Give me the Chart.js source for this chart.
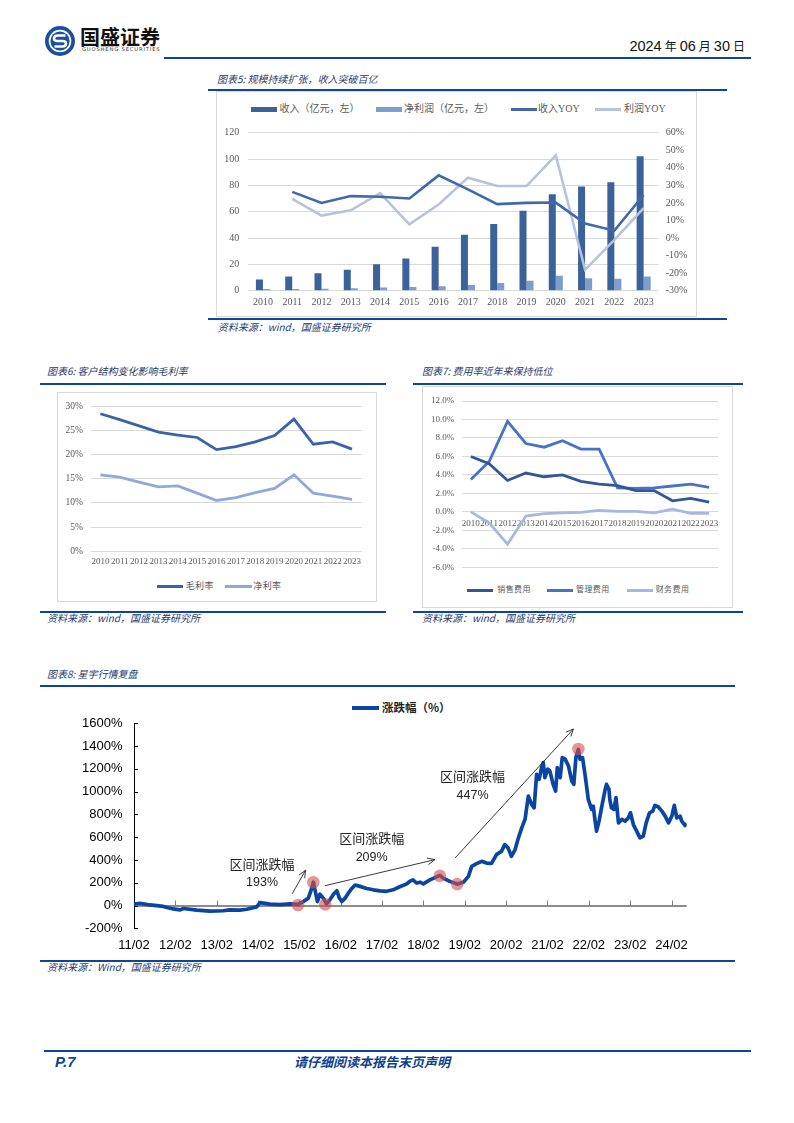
<!DOCTYPE html>
<html><head><meta charset="utf-8">
<script src="https://cdn.jsdelivr.net/npm/chart.js@4.4.1/dist/chart.umd.min.js"></script>
<style>
body{margin:0;width:794px;height:1123px;position:relative;background:#fff;font-family:'Noto Sans CJK SC',sans-serif;overflow:hidden}
.hl{position:absolute;height:2px;background:#0c469c}
.title{position:absolute;font-size:10px;font-style:italic;color:#1f3b6e;white-space:nowrap;line-height:12px}
.box{position:absolute;border:1px solid #d9d9d9;box-sizing:border-box}
canvas{position:absolute}
.lg{position:absolute;color:#595959;white-space:nowrap;font-family:'Liberation Serif','Noto Sans CJK SC',serif}
.sw{position:absolute}
</style>
</head><body>
<script>
// ---------- data ----------
const years = ['2010','2011','2012','2013','2014','2015','2016','2017','2018','2019','2020','2021','2022','2023'];
// Chart 5
const revenue   = [8.6, 10.7, 13.2, 16.0, 20.1, 24.4, 33.3, 42.5, 50.6, 60.8, 73.2, 79.1, 82.3, 102.2];
const netProfit = [1.3, 1.3, 1.5, 1.8, 2.5, 2.8, 3.3, 4.3, 5.8, 7.6, 11.4, 9.4, 9.1, 10.8];
const revenueYoy = [null, 26.3, 20.0, 23.9, 23.5, 22.5, 35.7, 27.7, 19.3, 20.0, 20.2, 8.2, 4.2, 24.5];
const profitYoy  = [null, 22.3, 12.8, 15.8, 25.6, 7.8, 19.1, 34.4, 29.6, 29.6, 47.1, -18.1, -1.0, 17.1];
// Chart 6
const grossMargin = [28.4, 27.2, 25.9, 24.6, 24.0, 23.5, 21.0, 21.6, 22.6, 23.9, 27.3, 22.1, 22.6, 21.1];
const netMargin   = [15.8, 15.3, 14.3, 13.3, 13.5, 12.0, 10.5, 11.1, 12.1, 13.0, 15.8, 12.0, 11.4, 10.7];
// Chart 7
const salesExp = [6.0, 5.2, 3.4, 4.2, 3.8, 4.0, 3.3, 3.0, 2.85, 2.3, 2.3, 1.2, 1.45, 1.05];
const mgmtExp  = [3.5, 5.45, 9.8, 7.4, 7.0, 7.7, 6.8, 6.8, 2.6, 2.55, 2.6, 2.8, 3.0, 2.65];
const finExp   = [0.0, -1.2, -3.5, -0.45, -0.2, -0.1, -0.05, 0.15, 0.05, 0.05, -0.1, 0.3, -0.15, -0.15];
// Chart 8 (decimal year, cumulative change %)
const stockT = [2011.08,2011.23,2011.47,2011.79,2012.03,2012.20,2012.28,2012.60,2012.92,2013.24,2013.40,2013.64,2013.81,2014.05,2014.13,2014.37,2014.61,2014.86,2015.05,2015.18,2015.30,2015.38,2015.42,2015.47,2015.52,2015.58,2015.66,2015.74,2015.82,2015.92,2015.99,2016.05,2016.11,2016.19,2016.27,2016.35,2016.43,2016.55,2016.71,2016.87,2017.03,2017.19,2017.35,2017.51,2017.68,2017.75,2017.83,2017.92,2018.00,2018.08,2018.24,2018.48,2018.56,2018.72,2018.90,2019.05,2019.17,2019.25,2019.37,2019.49,2019.61,2019.73,2019.85,2019.97,2020.05,2020.13,2020.21,2020.30,2020.38,2020.46,2020.54,2020.62,2020.70,2020.76,2020.82,2020.88,2020.94,2020.98,2021.02,2021.09,2021.14,2021.22,2021.28,2021.32,2021.39,2021.44,2021.51,2021.59,2021.67,2021.72,2021.77,2021.83,2021.87,2021.93,2021.99,2022.07,2022.15,2022.19,2022.23,2022.27,2022.33,2022.39,2022.47,2022.51,2022.57,2022.59,2022.63,2022.69,2022.74,2022.80,2022.88,2022.96,2023.04,2023.09,2023.16,2023.24,2023.32,2023.40,2023.47,2023.55,2023.63,2023.68,2023.76,2023.85,2023.93,2024.01,2024.09,2024.15,2024.21,2024.29,2024.33,2024.41,2024.45];
const stockPct = [12,20,5,-8,-30,-38,-26,-40,-50,-46,-38,-40,-33,-12,25,12,8,15,10,35,65,150,205,120,35,100,65,15,50,105,130,65,35,65,110,150,180,168,150,138,128,125,138,165,190,212,225,197,205,190,225,265,241,212,188,205,256,344,368,388,373,370,447,476,535,506,432,491,594,682,756,961,888,858,1152,1108,1211,1255,1123,1197,1182,1064,1005,1211,1123,1299,1285,1226,1094,1064,1299,1370,1285,1299,1152,932,844,873,756,653,741,858,1005,1064,1020,932,858,844,947,726,756,741,770,814,711,653,594,609,726,814,829,879,867,829,785,726,785,879,770,785,741,703,720];
const markT   = [2015.05, 2015.42, 2015.71, 2018.48, 2018.90, 2021.83];
const markPct = [5, 205, 10, 262, 188, 1375];
const stockTickLabels = ['11/02','12/02','13/02','14/02','15/02','16/02','17/02','18/02','19/02','20/02','21/02','22/02','23/02','24/02'];
const stockTickT = [2011.083,2012.083,2013.083,2014.083,2015.083,2016.083,2017.083,2018.083,2019.083,2020.083,2021.083,2022.083,2023.083,2024.083];
const rangeLabels = ['区间涨跌幅','193%','区间涨跌幅','209%','区间涨跌幅','447%'];
</script>

<!-- header -->
<svg style="position:absolute;left:45px;top:26px" width="30" height="30" viewBox="0 0 30 30">
  <circle cx="15" cy="15" r="15" fill="#1b4f9f"/>
  <circle cx="15" cy="15" r="11.3" fill="#fff"/>
  <circle cx="15" cy="15" r="9.6" fill="#1b4f9f"/>
  <path d="M20.5 9.5 H12.5 Q9 9.5 9 12.5 Q9 15 12.5 15 H17.5 Q21 15 21 17.5 Q21 20.5 17.5 20.5 H9.5" fill="none" stroke="#fff" stroke-width="2.6"/>
</svg>
<div style="position:absolute;left:80px;top:24px;font-size:20px;font-weight:bold;color:#111;line-height:26px;letter-spacing:0px">国盛证券</div>
<div style="position:absolute;left:82px;top:46px;font-size:5.2px;color:#333;letter-spacing:0.85px;line-height:7px;font-family:'DejaVu Sans',sans-serif">GUOSHENG SECURITIES</div>
<div style="position:absolute;right:49px;top:36px;line-height:20px;color:#111;white-space:nowrap;font-family:'Liberation Sans',sans-serif;font-size:14.5px">2024<span style="font-size:12px;font-family:'Noto Sans CJK SC';margin:0 3px">年</span>06<span style="font-size:12px;font-family:'Noto Sans CJK SC';margin:0 3px">月</span>30<span style="font-size:12px;font-family:'Noto Sans CJK SC';margin-left:3px">日</span></div>
<div class="hl" style="left:164px;top:56.7px;width:587px;"></div>

<!-- chart 5 -->
<div class="title" style="left:217px;top:73px">图表5: 规模持续扩张，收入突破百亿</div>
<div class="hl" style="left:208px;top:88.5px;width:519px"></div>
<div class="box" style="left:216px;top:91px;width:481px;height:226px"></div>
<div class="sw" style="left:251px;top:106.5px;width:26px;height:5px;background:#3c6399"></div>
<div class="lg" style="left:279.5px;top:102px;font-size:10px;line-height:14px">收入（亿元，左）</div>
<div class="sw" style="left:375.7px;top:106.5px;width:26px;height:5px;background:#7d9dcf"></div>
<div class="lg" style="left:404px;top:102px;font-size:10px;line-height:14px">净利润（亿元，左）</div>
<div class="sw" style="left:511px;top:107.5px;width:26px;height:3px;background:#4069ab"></div>
<div class="lg" style="left:538px;top:102px;font-size:10px;line-height:14px">收入YOY</div>
<div class="sw" style="left:594.5px;top:107.5px;width:26px;height:3px;background:#b5c3dd"></div>
<div class="lg" style="left:624px;top:102px;font-size:10px;line-height:14px">利润YOY</div>
<canvas id="c5" width="479" height="199" style="left:217px;top:117px"></canvas>
<div class="hl" style="left:208px;top:318px;width:519px"></div>
<div class="title" style="left:217.7px;top:320.7px">资料来源：wind，国盛证券研究所</div>

<!-- chart 6 -->
<div class="title" style="left:47px;top:365px">图表6: 客户结构变化影响毛利率</div>
<div class="hl" style="left:40px;top:383px;width:346px"></div>
<div class="box" style="left:57px;top:392px;width:320px;height:210px"></div>
<canvas id="c6" width="318" height="184" style="left:58px;top:392px"></canvas>
<div class="sw" style="left:156.7px;top:584.5px;width:26.6px;height:3px;background:#3962ab"></div>
<div class="lg" style="left:185.7px;top:580px;font-size:9px;line-height:12px;letter-spacing:0.4px">毛利率</div>
<div class="sw" style="left:225px;top:584.5px;width:26.6px;height:3px;background:#90a9dc"></div>
<div class="lg" style="left:253.3px;top:580px;font-size:9px;line-height:12px;letter-spacing:0.4px">净利率</div>
<div class="hl" style="left:40px;top:610.7px;width:346px"></div>
<div class="title" style="left:47px;top:612px">资料来源：wind，国盛证券研究所</div>

<!-- chart 7 -->
<div class="title" style="left:422px;top:365px">图表7: 费用率近年来保持低位</div>
<div class="hl" style="left:413px;top:383px;width:330px"></div>
<div class="box" style="left:422px;top:386px;width:311px;height:222px"></div>
<canvas id="c7" width="309" height="194" style="left:423px;top:387px"></canvas>
<div class="sw" style="left:466.7px;top:588.5px;width:26.6px;height:3px;background:#30569b"></div>
<div class="lg" style="left:497.3px;top:584px;font-size:8px;line-height:12px;letter-spacing:0.4px">销售费用</div>
<div class="sw" style="left:546.7px;top:588.5px;width:26.6px;height:3px;background:#4673c5"></div>
<div class="lg" style="left:576px;top:584px;font-size:8px;line-height:12px;letter-spacing:0.4px">管理费用</div>
<div class="sw" style="left:626.7px;top:588.5px;width:26.6px;height:3px;background:#a7b7df"></div>
<div class="lg" style="left:655.7px;top:584px;font-size:8px;line-height:12px;letter-spacing:0.4px">财务费用</div>
<div class="hl" style="left:413px;top:610.7px;width:330px"></div>
<div class="title" style="left:422px;top:612px">资料来源：wind，国盛证券研究所</div>

<!-- chart 8 -->
<div class="title" style="left:47px;top:668px">图表8: 星宇行情复盘</div>
<div class="hl" style="left:40px;top:684.7px;width:695px"></div>
<div class="sw" style="left:352px;top:706px;width:27px;height:3.5px;background:#0a45a3"></div>
<div style="position:absolute;left:382px;top:699px;font-size:11.5px;line-height:17px;font-weight:bold;color:#222;white-space:nowrap">涨跌幅（%）</div>
<canvas id="c8" width="695" height="254" style="left:40px;top:704px"></canvas>
<div class="hl" style="left:40px;top:959.7px;width:695px"></div>
<div class="title" style="left:47px;top:961px">资料来源：Wind，国盛证券研究所</div>

<!-- footer -->
<div class="hl" style="left:44px;top:1049.5px;width:707px;height:2.5px"></div>
<div style="position:absolute;left:55px;top:1053px;font-size:15px;line-height:18px;font-weight:bold;font-style:italic;color:#0c469c;font-family:'Liberation Sans',sans-serif">P.7</div>
<div style="position:absolute;left:292px;top:1053px;width:160px;text-align:center;font-size:13px;line-height:18px;font-weight:bold;font-style:italic;color:#0c3f8f;white-space:nowrap">请仔细阅读本报告末页声明</div>

<script>
Chart.defaults.animation = false;
Chart.defaults.events = [];
Chart.defaults.plugins.legend.display = false;
Chart.defaults.plugins.tooltip.enabled = false;
const SERIF = "'Liberation Serif','Times New Roman',serif";
const GRID = '#d9d9d9';
const TXT = '#595959';

// Chart 5
new Chart(document.getElementById('c5'), {
  type: 'bar',
  data: {
    labels: years,
    datasets: [
      {type:'line', label:'收入YOY', data:revenueYoy, yAxisID:'y1', borderColor:'#4069ab', borderWidth:2.6, pointRadius:0, tension:0, order:0},
      {type:'line', label:'利润YOY', data:profitYoy, yAxisID:'y1', borderColor:'#b5c3dd', borderWidth:2.6, pointRadius:0, tension:0, order:1},
      {type:'bar', label:'收入（亿元，左）', data:revenue, yAxisID:'y', backgroundColor:'#3c6399', categoryPercentage:0.48, barPercentage:1, order:2},
      {type:'bar', label:'净利润（亿元，左）', data:netProfit, yAxisID:'y', backgroundColor:'#7d9dcf', categoryPercentage:0.48, barPercentage:1, order:3}
    ]
  },
  options: {
    responsive:false,
    layout:{padding:{top:15.7,left:0,right:0,bottom:0}},
    scales:{
      x:{grid:{display:false,drawTicks:false}, border:{display:false},
         ticks:{color:TXT, font:{family:SERIF,size:10}, padding:5.6, maxRotation:0, autoSkip:false},
         afterFit:s=>{s.height=25.3;}},
      y:{position:'left', min:0, max:120, grid:{color:GRID, drawTicks:false}, border:{display:false},
         ticks:{stepSize:20, color:TXT, font:{family:SERIF,size:10}, padding:9},
         afterFit:s=>{s.width=31.3;}},
      y1:{position:'right', min:-30, max:60, grid:{display:false, drawTicks:false}, border:{display:false},
         ticks:{stepSize:10, color:TXT, font:{family:SERIF,size:10}, padding:7.4, callback:v=>v+'%'},
         afterFit:s=>{s.width=37.7;}}
    }
  }
});

// Chart 6
new Chart(document.getElementById('c6'), {
  type:'line',
  data:{labels:years, datasets:[
    {label:'毛利率', data:grossMargin, borderColor:'#3962ab', borderWidth:2.8, pointRadius:0, tension:0},
    {label:'净利率', data:netMargin, borderColor:'#90a9dc', borderWidth:2.8, pointRadius:0, tension:0}
  ]},
  options:{
    responsive:false,
    layout:{padding:{top:14,right:14.3,left:0,bottom:0}},
    scales:{
      x:{offset:true, grid:{display:false,drawTicks:false}, border:{display:false},
         ticks:{color:TXT, font:{family:SERIF,size:9}, padding:5.3, maxRotation:0, autoSkip:false},
         afterFit:s=>{s.height=24.7;}},
      y:{min:0, max:30, grid:{color:GRID, drawTicks:false}, border:{display:false},
         ticks:{stepSize:5, color:TXT, font:{family:SERIF,size:9.5}, padding:7.7, callback:v=>v+'%'},
         afterFit:s=>{s.width=32.7;}}
    }
  }
});

// Chart 7
new Chart(document.getElementById('c7'), {
  type:'line',
  data:{labels:years, datasets:[
    {label:'销售费用', data:salesExp, borderColor:'#30569b', borderWidth:2.8, pointRadius:0, tension:0},
    {label:'管理费用', data:mgmtExp, borderColor:'#4673c5', borderWidth:2.8, pointRadius:0, tension:0},
    {label:'财务费用', data:finExp, borderColor:'#a7b7df', borderWidth:2.8, pointRadius:0, tension:0}
  ]},
  options:{
    responsive:false,
    layout:{padding:{top:14,right:13.7,left:0,bottom:13.7}},
    scales:{
      x:{position:{y:0}, offset:true, grid:{display:false,drawTicks:false}, border:{display:false},
         ticks:{color:TXT, font:{family:SERIF,size:9}, padding:6, maxRotation:0, autoSkip:false}},
      y:{min:-6, max:12, grid:{color:GRID, drawTicks:false}, border:{display:false},
         ticks:{stepSize:2, color:TXT, font:{family:SERIF,size:9}, padding:7.4, callback:v=>v.toFixed(1)+'%'},
         afterFit:s=>{s.width=38.7;}}
    }
  }
});

// Chart 8
const arrows8 = [[2014.91,103,2015.23,309],[2015.70,174,2018.36,403],[2018.85,418,2021.71,1550]];
const labelPos8 = [[2014.18,368],[2014.18,201],[2016.83,588],[2016.83,423],[2019.27,1135],[2019.27,968]];
const extras8 = {
  id:'extras8',
  beforeDatasetsDraw(chart){
    const {ctx, chartArea:a, scales:{x, y}} = chart;
    ctx.save();
    ctx.strokeStyle = '#000'; ctx.lineWidth = 1;
    y.ticks.forEach(t=>{ const py = Math.round(y.getPixelForValue(t.value))+0.5;
      ctx.beginPath(); ctx.moveTo(a.left, py); ctx.lineTo(a.left+4, py); ctx.stroke(); });
    const y0 = y.getPixelForValue(0);
    ctx.strokeStyle = '#7a7a7a';
    x.ticks.forEach((t,i)=>{ if(i===0) return; const px = Math.round(x.getPixelForValue(t.value))+0.5;
      ctx.beginPath(); ctx.moveTo(px, y0); ctx.lineTo(px, y0-5); ctx.stroke(); });
    ctx.restore();
  },
  afterDatasetsDraw(chart){
    const {ctx, scales:{x, y}} = chart;
    ctx.save();
    ctx.strokeStyle = '#222'; ctx.lineWidth = 0.9;
    arrows8.forEach(([x1,y1,x2,y2])=>{
      const p1x=x.getPixelForValue(x1), p1y=y.getPixelForValue(y1), p2x=x.getPixelForValue(x2), p2y=y.getPixelForValue(y2);
      const ang = Math.atan2(p2y-p1y, p2x-p1x);
      ctx.beginPath(); ctx.moveTo(p1x,p1y); ctx.lineTo(p2x,p2y); ctx.stroke();
      ctx.beginPath();
      ctx.moveTo(p2x-8*Math.cos(ang-0.42), p2y-8*Math.sin(ang-0.42));
      ctx.lineTo(p2x,p2y);
      ctx.lineTo(p2x-8*Math.cos(ang+0.42), p2y-8*Math.sin(ang+0.42));
      ctx.stroke();
    });
    ctx.fillStyle = '#222'; ctx.textAlign='center'; ctx.textBaseline='middle';
    rangeLabels.forEach((t,i)=>{
      ctx.font = (i%2===0) ? "13px 'Noto Sans CJK SC'" : "12.5px 'Liberation Sans'";
      ctx.fillText(t, x.getPixelForValue(labelPos8[i][0]), y.getPixelForValue(labelPos8[i][1]));
    });
    ctx.restore();
  }
};
new Chart(document.getElementById('c8'), {
  type:'line',
  data:{datasets:[
    {label:'marks', data:markT.map((t,i)=>({x:t,y:markPct[i]})), showLine:false, pointRadius:6.3,
     pointBackgroundColor:'rgba(214,78,78,0.6)', pointBorderWidth:0, order:0},
    {label:'涨跌幅（%）', data:stockT.map((t,i)=>({x:t,y:stockPct[i]})), borderColor:'#0a45a3', borderWidth:3.7,
     pointRadius:0, tension:0, borderJoinStyle:'round', order:1}
  ]},
  options:{
    responsive:false,
    layout:{padding:{top:19.3,right:48.3,left:0,bottom:0}},
    scales:{
      x:{type:'linear', min:2011.083, max:2024.45, grid:{display:false,drawTicks:false}, border:{display:false},
         afterBuildTicks:s=>{ s.ticks = stockTickT.map(v=>({value:v})); },
         ticks:{color:'#000', font:{family:"'Liberation Sans',sans-serif", size:13}, padding:9, maxRotation:0, autoSkip:false,
                callback:(v,i)=>stockTickLabels[i]},
         afterFit:s=>{s.height=29.7;}},
      y:{min:-200, max:1600,
         grid:{drawTicks:false, color:c=>c.tick && c.tick.value===0 ? '#8c8c8c' : 'rgba(0,0,0,0)', lineWidth:c=>c.tick && c.tick.value===0 ? 2 : 1},
         border:{display:true, color:'#000', width:1},
         ticks:{stepSize:200, color:'#000', font:{family:"'Liberation Sans',sans-serif", size:13}, padding:11.5, callback:v=>v+'%'},
         afterFit:s=>{s.width=94;}}
    }
  },
  plugins:[extras8]
});
</script>
</body></html>
